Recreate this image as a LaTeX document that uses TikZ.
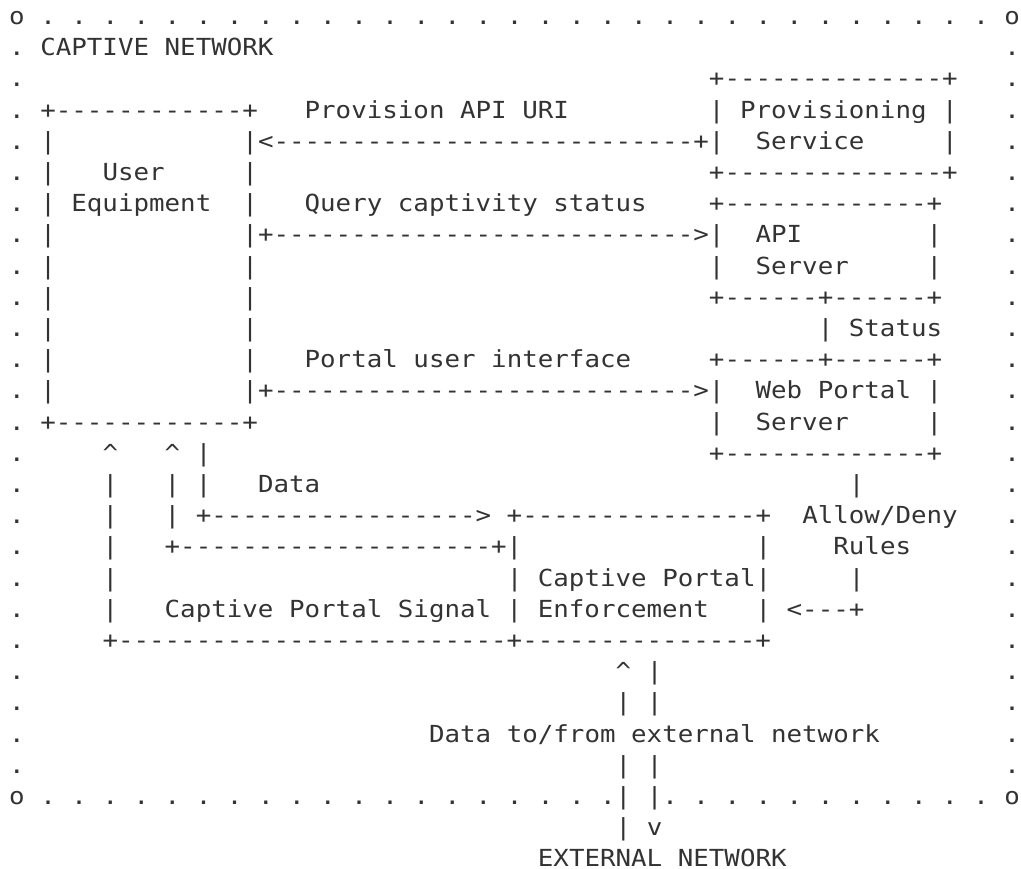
\documentclass[tikz,border=0pt]{standalone}
\usepackage{fontspec}
\setmonofont{DejaVu Sans Mono}[FakeStretch=1.099]
\ExplSyntaxOn
\cs_new:Npn \dashes #1 { \prg_replicate:nn {#1} {-} }
\ExplSyntaxOff
\definecolor{ink}{HTML}{333333}
\tikzset{
  asc/.style={anchor=base west, inner sep=0pt, outer sep=0pt, text=ink,
    font=\ttfamily\fontsize{23.5pt}{31.2pt}\selectfont},
}

\begin{document}
\begin{tikzpicture}[x=15.55pt,y=-31.2pt]
    \useasboundingbox (-9.2pt,-6.7pt) rectangle (1011.8pt,-875.7pt);
    % captive network frame
    \node[asc] (tl) at (0,1) {o};
    \node[asc] (tr) at (64,1) {o};
    \foreach \c in {2,4,...,62} \node[asc] (top-\c) at (\c,1) {.};
    \foreach \r in {2,...,25} {
        \node[asc] (left-\r) at (0,\r) {.};
        \node[asc] (right-\r) at (64,\r) {.};
    }
    \node[asc] (bl) at (0,26) {o};
    \node[asc] (br) at (64,26) {o};
    \foreach \c in {2,4,...,38} \node[asc] (bot-\c) at (\c,26) {.};
    \foreach \c in {42,44,...,62} \node[asc] (bot-\c) at (\c,26) {.};
    \node[asc] (title) at (2,2) {CAPTIVE NETWORK};
    % user equipment
    \node[asc] (ue-top) at (2,4) {+\dashes{12}+};
    \foreach \r in {5,6,8,9,10,11,12,13} \node[asc] (ue-l\r) at (2,\r) {|};
    \foreach \r in {6,7,9,10,11,12} \node[asc] (ue-r\r) at (15,\r) {|};
    \node[asc] (ue-name) at (6,6) {User};
    \node[asc] (ue-equip) at (2,7) {| Equipment};
    \node[asc] (ue-bot) at (2,14) {+\dashes{12}+};
    % provisioning service
    \node[asc] (ps-top) at (45,3) {+\dashes{14}+};
    \node[asc] (ps-name) at (45,4) {| Provisioning |};
    \node[asc] (ps-svc) at (48,5) {Service};
    \node[asc] (ps-r5) at (60,5) {|};
    \node[asc] (ps-bot) at (45,6) {+\dashes{14}+};
    \node[asc] (uri-lbl) at (19,4) {Provision API URI};
    \node[asc] (uri-arr) at (15,5) {|<\dashes{27}+|};
    % api server
    \node[asc] (api-top) at (45,7) {+\dashes{13}+};
    \node[asc] (qry-lbl) at (19,7) {Query captivity status};
    \node[asc] (qry-arr) at (15,8) {|+\dashes{27}>|};
    \node[asc] (api-name) at (48,8) {API};
    \node[asc] (api-r8) at (59,8) {|};
    \node[asc] (api-l9) at (45,9) {|};
    \node[asc] (api-srv) at (48,9) {Server};
    \node[asc] (api-r9) at (59,9) {|};
    \node[asc] (api-bot) at (45,10) {+\dashes{6}+\dashes{6}+};
    \node[asc] (status) at (52,11) {| Status};
    % web portal server
    \node[asc] (web-top) at (45,12) {+\dashes{6}+\dashes{6}+};
    \node[asc] (pui-lbl) at (19,12) {Portal user interface};
    \node[asc] (pui-arr) at (15,13) {|+\dashes{27}>|};
    \node[asc] (web-name) at (48,13) {Web Portal |};
    \node[asc] (web-l14) at (45,14) {|};
    \node[asc] (web-srv) at (48,14) {Server};
    \node[asc] (web-r14) at (59,14) {|};
    \node[asc] (web-bot) at (45,15) {+\dashes{13}+};
    % data and signal lines, enforcement
    \node[asc] (sig-up) at (6,15) {\textasciicircum};
    \node[asc] (data-up) at (10,15) {\textasciicircum{} |};
    \foreach \r in {16,...,20} \node[asc] (sig-\r) at (6,\r) {|};
    \node[asc] (data-16) at (10,16) {| |};
    \node[asc] (data-lbl) at (16,16) {Data};
    \node[asc] (data-arr) at (10,17) {| +\dashes{17}> +\dashes{15}+};
    \node[asc] (ret-arr) at (10,18) {+\dashes{20}+|};
    \node[asc] (cpe-r18) at (48,18) {|};
    \node[asc] (cpe-name) at (32,19) {| Captive Portal|};
    \node[asc] (sig-lbl) at (10,20) {Captive Portal Signal | Enforcement};
    \node[asc] (rules-in) at (48,20) {| <\dashes{3}+};
    \node[asc] (cpe-bot) at (6,21) {+\dashes{25}+\dashes{15}+};
    % allow/deny rules
    \node[asc] (rules-16) at (54,16) {|};
    \node[asc] (rules-lbl) at (51,17) {Allow/Deny};
    \node[asc] (rules-lbl2) at (53,18) {Rules};
    \node[asc] (rules-19) at (54,19) {|};
    % external network
    \node[asc] (ext-up) at (39,22) {\textasciicircum{} |};
    \node[asc] (ext-23) at (39,23) {| |};
    \node[asc] (ext-lbl) at (27,24) {Data to/from external network};
    \node[asc] (ext-25) at (39,25) {| |};
    \node[asc] (ext-26) at (39,26) {| |};
    \node[asc] (ext-down) at (39,27) {| v};
    \node[asc] (ext-net) at (34,28) {EXTERNAL NETWORK};
\end{tikzpicture}
\end{document}
